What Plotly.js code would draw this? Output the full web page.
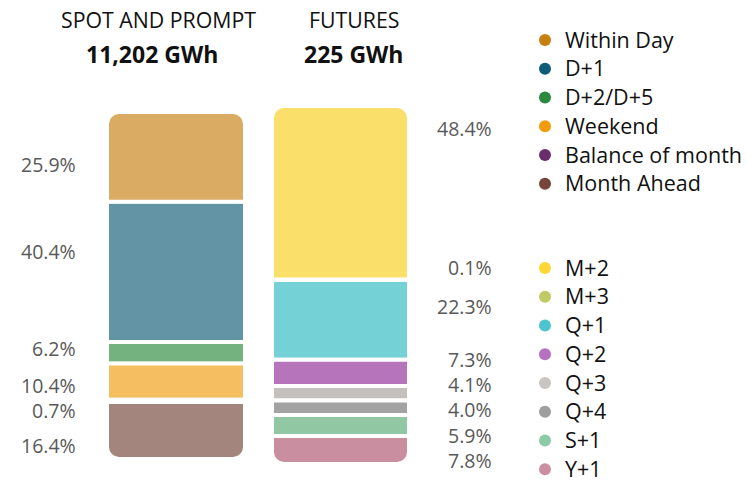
<!DOCTYPE html>
<html><head><meta charset="utf-8">
<script src="https://cdn.plot.ly/plotly-3.0.1.min.js"></script>
<style>html,body{margin:0;padding:0;background:#fff}#chart{width:747px;height:483px}</style>
</head><body><div id="chart"></div>
<script>
// ---- data ----
const spotCategories = ['Within Day','D+1','D+2/D+5','Weekend','Balance of month','Month Ahead'];
const spotShares = [25.9, 40.4, 6.2, 10.4, 0.7, 16.4];
const futuresCategories = ['M+2','M+3','Q+1','Q+2','Q+3','Q+4','S+1','Y+1'];
const futuresShares = [48.4, 0.1, 22.3, 7.3, 4.1, 4.0, 5.9, 7.8];
const barTitles = ['SPOT AND PROMPT', 'FUTURES'];
const barTotals = ['11,202 GWh', '225 GWh'];

// ---- styles ----
const spotColors = ['#c77f10','#0f5c78','#2b8a3d','#f09c0e','#6a2d6b','#744538'];
const futuresColors = ['#fae06b','#c2cf6e','#74d1d6','#b674bb','#c4c0be','#a3a3a3','#91c8a3','#c98ea0'];
const futuresDotColors = ['#fdd835','#c0ca63','#4dc4d0','#b570bf','#c9c5c2','#9e9e9e','#8dcaa6','#cc8fa1'];
const spotLabelShift = [-7.1, 20, 4.8, -3.4, -10.1, -14.5];
const futuresLabelShift = [64.7, 12.6, 12.8, 13.8, 8.8, -2.2, -10, -10.5];
const FONT = 'Open Sans, Liberation Sans, Arial, sans-serif';

const W = 747, H = 483;
const traces = [];
const annotations = [];

function addBar(cats, vals, colors, dotColors, barOpacity, split, xa, ya, legendName, labelX, shifts) {
  const sum = a => a.reduce((s, v) => s + v, 0);
  const posTotal = sum(vals.slice(0, split));
  const order = [];
  for (let i = split - 1; i >= 0; i--) order.push(i);
  for (let i = split; i < vals.length; i++) order.push(i);
  order.forEach(i => {
    traces.push({
      type: 'bar', x: [0], y: [i < split ? vals[i] : -vals[i]], width: [1],
      xaxis: xa, yaxis: ya, name: cats[i], showlegend: false, hoverinfo: 'skip',
      opacity: barOpacity,
      marker: {color: colors[i], line: {color: '#ffffff', width: 4}}
    });
  });
  cats.forEach((c, i) => {
    traces.push({
      type: 'scatter', mode: 'markers', x: [null], y: [null], xaxis: xa, yaxis: ya,
      name: '<span style="font-size:21.5px">' + c + '</span>', legend: legendName, showlegend: true, hoverinfo: 'skip',
      marker: {color: dotColors[i], size: 12, symbol: 'circle'}
    });
  });
  let cum = 0;
  vals.forEach((v, i) => {
    annotations.push({
      xref: 'paper', yref: ya, x: labelX, y: posTotal - cum - v / 2,
      xanchor: 'right', yanchor: 'middle', yshift: shifts[i], showarrow: false,
      text: v.toFixed(1) + '%', font: {family: FONT, size: 19.5, color: '#595959'}
    });
    cum += v;
  });
  return [-(sum(vals) - posTotal), posTotal];
}

const r1 = addBar(spotCategories, spotShares, spotColors, spotColors, 0.65, 2, 'x', 'y', 'legend', 78 / W, spotLabelShift);
const r2 = addBar(futuresCategories, futuresShares, futuresColors, futuresDotColors, 1, 3, 'x2', 'y2', 'legend2', 494 / W, futuresLabelShift);

const titleX = [158.5 / W, 354 / W];
const totalX = [151.5 / W, 353 / W];
barTitles.forEach((t, i) => {
  annotations.push({xref: 'paper', yref: 'paper', x: titleX[i], y: 1 - 19 / H, xanchor: 'center', yanchor: 'middle',
    showarrow: false, text: t, font: {family: FONT, size: 21.3, color: '#111'}});
  annotations.push({xref: 'paper', yref: 'paper', x: totalX[i], y: 1 - 54 / H, xanchor: 'center', yanchor: 'middle',
    showarrow: false, text: '<b>' + barTotals[i] + '</b>', font: {family: FONT, size: 23, color: '#111'}});
});

const hiddenAxis = (extra) => Object.assign({visible: false, showgrid: false, zeroline: false, fixedrange: true}, extra);
const legendStyle = (y) => ({x: 525 / W, xanchor: 'left', y: y, yanchor: 'top', bgcolor: 'rgba(0,0,0,0)',
  borderwidth: 0, font: {family: FONT, size: 19.8, color: '#111'}, itemsizing: 'constant', traceorder: 'normal'});

const layout = {
  width: W, height: H, margin: {l: 0, r: 0, t: 0, b: 0, autoexpand: false},
  paper_bgcolor: '#fff', plot_bgcolor: 'rgba(0,0,0,0)',
  barmode: 'relative', barcornerradius: 12, showlegend: true,
  xaxis: hiddenAxis({domain: [107 / W, 245 / W], range: [-0.5, 0.5], anchor: 'y'}),
  yaxis: hiddenAxis({domain: [24 / H, 371 / H], range: r1, anchor: 'x'}),
  xaxis2: hiddenAxis({domain: [272 / W, 409 / W], range: [-0.5, 0.5], anchor: 'y2'}),
  yaxis2: hiddenAxis({domain: [19 / H, 377 / H], range: r2, anchor: 'x2'}),
  legend: legendStyle(1 - 20.6 / H),
  legend2: legendStyle(1 - 248.6 / H),
  annotations: annotations
};

Plotly.newPlot('chart', traces, layout, {displayModeBar: false, staticPlot: true});
</script></body></html>
